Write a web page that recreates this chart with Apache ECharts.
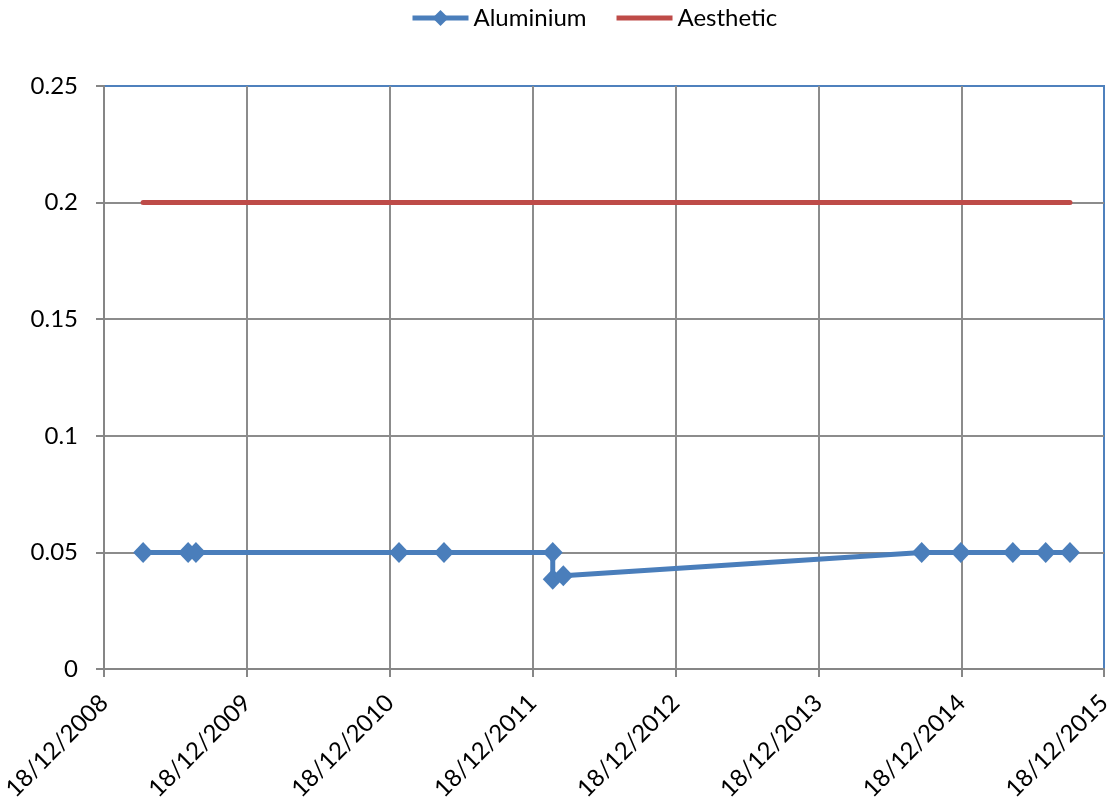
<!DOCTYPE html>
<html>
<head>
<meta charset="utf-8">
<script src="https://cdn.jsdelivr.net/npm/echarts@6/dist/echarts.min.js"></script>
<style>html,body{margin:0;padding:0;background:#fff}#c{width:1114px;height:801px}</style>
</head>
<body>
<div id="c"></div>
<script>
// ---- data ----
const baseDate = '2008-12-18';
const endDate = '2015-12-18';
const aluminiumDates = ['2009-03-28','2009-07-21','2009-08-10','2011-01-11','2011-05-06','2012-02-08','2012-02-08','2012-03-06','2014-09-08','2014-12-17','2015-04-29','2015-07-22','2015-09-22'];
const aluminiumValues = [0.05,0.05,0.05,0.05,0.05,0.05,0.0385,0.04,0.05,0.05,0.05,0.05,0.05];
const aestheticDates = ['2009-03-28','2015-09-22'];
const aestheticValues = [0.2,0.2];
const tickYears = [2008,2009,2010,2011,2012,2013,2014,2015];

const DAY = 86400000;
function days(s){ return (Date.parse(s+'T00:00:00Z') - Date.parse(baseDate+'T00:00:00Z'))/DAY; }
const font = 'Lato';

const chart = echarts.init(document.getElementById('c'));
chart.setOption({
  animation:false,
  backgroundColor:'#fff',
  textStyle:{fontFamily:font},
  legend:{
    top:1, left:405, itemWidth:56, itemHeight:20, itemGap:30,
    textStyle:{fontSize:24, color:'#000', fontFamily:font},
    lineStyle:{width:5},
    data:['Aluminium',{name:'Aesthetic', icon:'path://M0,0 L56,0 L56,5 L0,5 Z'}]
  },
  grid:{left:104, right:10, top:86, bottom:132, outerBoundsMode:'none', containLabel:false, show:true, borderColor:'#4F81BD', borderWidth:2, backgroundColor:'#fff'},
  xAxis:{
    type:'value', min:0, max:days(endDate), interval:365.25,
    axisLine:{show:true, onZero:false, lineStyle:{color:'#868686', width:2}},
    axisTick:{show:true, length:8, lineStyle:{color:'#868686', width:2}},
    splitLine:{show:true, showMinLine:false, showMaxLine:false, lineStyle:{color:'#8c8c8c', width:2}},
    axisLabel:{rotate:45, margin:30, fontSize:24, color:'#000', fontFamily:font, showMaxLabel:true, showMinLabel:true,
      formatter:function(v){ const i=Math.round(v/365.25); return '18/12/'+tickYears[i]; }}
  },
  yAxis:{
    type:'value', min:0, max:0.25, interval:0.05,
    axisLine:{show:true, lineStyle:{color:'#868686', width:2}},
    axisTick:{show:true, length:8, lineStyle:{color:'#868686', width:2}},
    splitLine:{show:true, showMinLine:false, showMaxLine:false, lineStyle:{color:'#8c8c8c', width:2}},
    axisLabel:{margin:26, fontSize:24, color:'#000', fontFamily:font,
      formatter:function(v){ return String(+v.toFixed(2)); }}
  },
  series:[
    {name:'Aluminium', type:'line', symbol:'diamond', symbolSize:[20,21], showAllSymbol:true,
      itemStyle:{color:'#4A7EBB'}, lineStyle:{color:'#4A7EBB', width:5},
      data: aluminiumDates.map((d,i)=>[days(d), aluminiumValues[i]])},
    {name:'Aesthetic', type:'line', symbol:'none',
      itemStyle:{color:'#BE4B48'}, lineStyle:{color:'#BE4B48', width:5, cap:'round'},
      data: aestheticDates.map((d,i)=>[days(d), aestheticValues[i]])}
  ]
});
</script>
</body>
</html>
